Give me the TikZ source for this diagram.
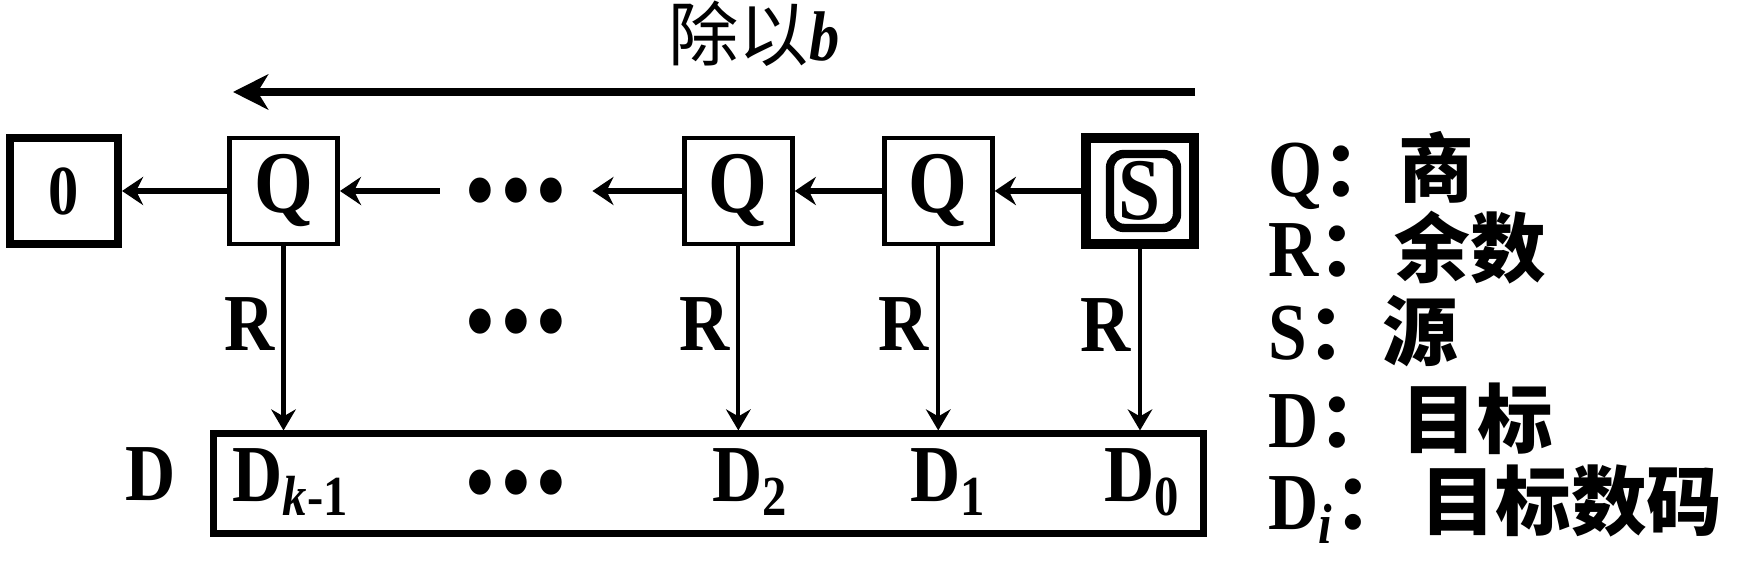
\documentclass[tikz,border=0pt]{standalone}
\usepackage{fontspec}
\setmainfont{Liberation Serif}[FakeStretch=0.86]
\newfontfamily\cjk{Noto Sans CJK SC}
\usetikzlibrary{arrows.meta,positioning}
\newcommand\zh[1]{{\cjk\fontsize{21.5}{21.5}\selectfont #1}}
\newcommand\bdots{\textbullet\hspace{1pt}\textbullet\hspace{1pt}\textbullet}

\begin{document}
\begin{tikzpicture}
  \tikzset{box/.style={draw, line width=1.4pt, minimum width=1.08cm, minimum height=1.06cm,
      inner sep=0pt, font=\fontsize{25}{25}\selectfont\bfseries},
    harrow/.style={-{Stealth[length=6pt,width=8pt,inset=2pt]}, line width=1.7pt},
    varrow/.style={-{Stealth[length=6pt,width=7pt,inset=2pt]}, line width=1.2pt},
    lab/.style={font=\fontsize{23}{23}\selectfont\bfseries, inner sep=2pt},
    dotrow/.style={font=\fontsize{30}{30}\selectfont, inner sep=0pt, inner xsep=7pt, yshift=-0.11cm},
    legend/.style={anchor=base west, inner sep=0pt, font=\fontsize{23}{23}\selectfont\bfseries}}

  \useasboundingbox (0,0) rectangle (17.37,5.61);

  % divide by b
  \coordinate (divR) at (11.95,4.69);
  \coordinate (divL) at (2.33,4.69);
  \draw[line width=2.3pt, -{Stealth[length=10pt,width=10pt,inset=3pt]}] (divR) -- (divL);
  \node (title) at (7.54,5.27) {\fontsize{20}{20}\selectfont{\cjk 除以}\textbf{\textit{b}}};

  % quotient chain
  \node[box, line width=3pt] (src) at (11.40,3.70) {S};
  \draw[line width=2.4pt, rounded corners=4pt] ([shift={(-0.30,-0.37)}]src.center)
    rectangle ([shift={(0.37,0.37)}]src.center);
  \node[box, left=0.86cm of src] (q3) {Q};
  \node[box, left=0.87cm of q3] (q2) {Q};
  \node[dotrow] (dq) at (5.16,3.70) {\bdots};
  \node[box] (q1) at (2.835,3.70) {Q};
  \node[box, line width=2.3pt, left=1.05cm of q1, font=\fontsize{20}{20}\selectfont\bfseries] (zero) {0};

  \draw[harrow] (src) -- (q3);
  \draw[harrow] (q3) -- (q2);
  \draw[harrow] (q2) -- (dq.east |- q2);
  \draw[harrow] (dq.west |- q1) -- (q1);
  \draw[harrow] (q1) -- (zero);

  % remainders into the target
  \node[draw, line width=2pt, minimum width=9.9cm, minimum height=1.0cm] (dst) at (7.085,0.77) {};
  \foreach \q in {q1,q2,q3,src}
    \draw[varrow] (\q) -- (\q |- dst.north) node[lab, left, pos=0.42] {R};
  \node[dotrow] (dr) at (5.16,2.39) {\bdots};

  \node[lab, anchor=base] (dlab) at (1.51,0.60) {D};
  \foreach \x/\s [count=\i] in {2.32/\textit{k}-1, 7.12/2, 9.10/1, 11.04/0}
    \node[lab, anchor=base west, inner sep=0pt] (d\i) at (\x,0.59) {D\textsubscript{\s}};
  \node[dotrow] (dd) at (5.16,0.78) {\bdots};

  % legend
  \node[legend] (lq) at (12.68,3.64) {Q\zh{：商}};
  \node[legend] (lr) at (12.68,2.84) {R\zh{：余数}};
  \node[legend] (ls) at (12.68,2.01) {S\zh{：源}};
  \node[legend] (ld) at (12.68,1.13) {D\zh{：\hspace{2pt}目标}};
  \node[legend] (ldi) at (12.68,0.31) {D\textsubscript{\textit{i}}\zh{：\hspace{3pt}目标数码}};
\end{tikzpicture}
\end{document}
